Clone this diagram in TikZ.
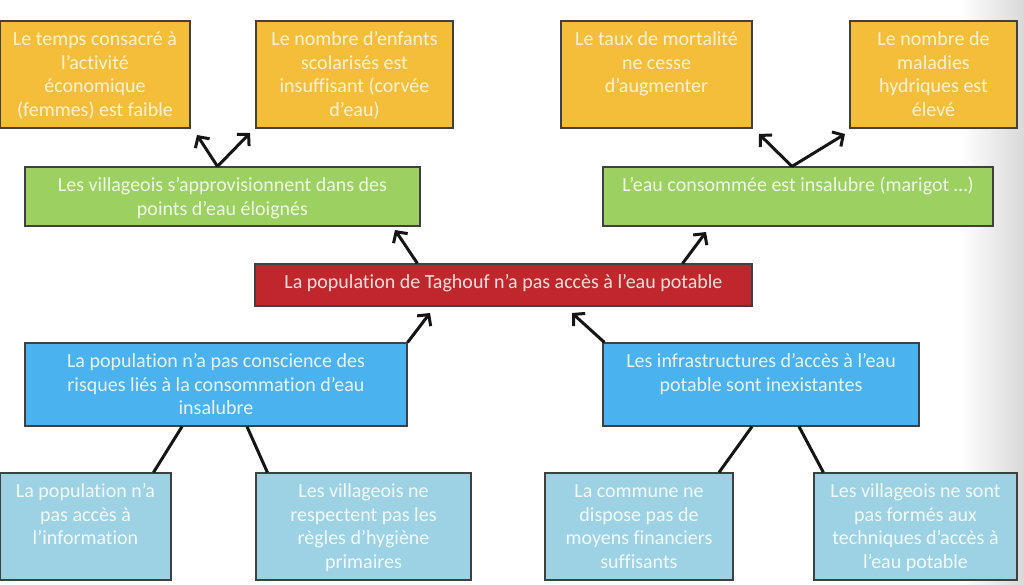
\documentclass[tikz,border=0pt]{standalone}
\usepackage{fontspec}
\setmainfont{Carlito}[Ligatures=NoCommon]
\usetikzlibrary{arrows.meta}

\definecolor{jaune}{HTML}{F5BE3A}
\definecolor{vert}{HTML}{9CD060}
\definecolor{rouge}{HTML}{C0272C}
\definecolor{bleu}{HTML}{4AB2EE}
\definecolor{bleuclair}{HTML}{9DD2E5}
\definecolor{bord}{HTML}{404040}
\definecolor{fleche}{HTML}{151515}

% 箱の中身（上揃え）
\newcommand{\boite}[3]{\parbox[c][#2][t]{#1}{\centering\vspace*{8.5pt}\strut#3}}

\tikzset{
  boitebase/.style={draw=bord, line width=1.2pt, inner sep=0pt,
    font=\fontsize{20}{23.5}\selectfont},
  effet/.style={boitebase, fill=jaune, text=jaune!20!white},
  cause/.style={boitebase, fill=vert, text=vert!15!white},
  probleme/.style={boitebase, fill=rouge, text=rouge!15!white},
  causeun/.style={boitebase, fill=bleu, text=bleu!12!white},
  causedeux/.style={boitebase, fill=bleuclair, text=bleuclair!12!white},
  fleche/.style={draw=fleche, line width=3pt,
    -{Straight Barb[length=8pt,width=17pt]}},
  lien/.style={draw=fleche, line width=3pt},
}

\begin{document}
\begin{tikzpicture}[x=1pt,y=-1pt]
  \useasboundingbox (0,0) rectangle (1024,584);
  % 背景
  \fill[white] (0,0) rectangle (1024,584);
  \shade[left color=white, right color=black!15] (960,0) rectangle (1024,584);
  % 結果
  \node[effet] (Y1) at (95,74.5) {\boite{190pt}{107pt}{Le temps consacré à\\ l’activité\\ économique\\ (femmes) est faible}};
  \node[effet] (Y2) at (354.5,74.5) {\boite{197pt}{107pt}{Le nombre d’enfants\\ scolarisés est\\ insuffisant (corvée\\ d’eau)}};
  \node[effet] (Y3) at (656.5,74.5) {\boite{191pt}{107pt}{Le taux de mortalité\\ ne cesse\\ d’augmenter}};
  \node[effet] (Y4) at (933.5,74.5) {\boite{167pt}{107pt}{Le nombre de\\ maladies\\ hydriques est\\ élevé}};
  \node[cause] (G1) at (222.5,196.5) {\boite{395pt}{59pt}{Les villageois s’approvisionnent dans des\\ points d’eau éloignés}};
  \node[cause] (G2) at (798,196.5) {\boite{390pt}{59pt}{L’eau consommée est insalubre (marigot …)}};
  % 中心の問題
  \node[probleme] (R) at (503.5,285) {\boite{497pt}{42pt}{La population de Taghouf n’a pas accès à l’eau potable}};
  % 原因
  \node[causeun] (B1) at (216,384.5) {\boite{382pt}{83pt}{La population n’a pas conscience des\\ risques liés à la consommation d’eau\\ insalubre}};
  \node[causeun] (B2) at (761,384.5) {\boite{316pt}{83pt}{Les infrastructures d’accès à l’eau\\ potable sont inexistantes}};
  \node[causedeux] (L1) at (85.5,526.5) {\boite{171pt}{107pt}{La population n’a\\ pas accès à\\ l’information}};
  \node[causedeux] (L2) at (363.5,526.5) {\boite{215pt}{107pt}{Les villageois ne\\ respectent pas les\\ règles d’hygiène\\ primaires}};
  \node[causedeux] (L3) at (639,526.5) {\boite{188pt}{107pt}{La commune ne\\ dispose pas de\\ moyens financiers\\ suffisants}};
  \node[causedeux] (L4) at (915.5,526.5) {\boite{203pt}{107pt}{Les villageois ne sont\\ pas formés aux\\ techniques d’accès à\\ l’eau potable}};
  % 矢印の先
  \coordinate (tY1) at (197,135);
  \coordinate (tY2) at (250,133);
  \coordinate (tY3) at (759,134);
  \coordinate (tY4) at (845,134);
  \coordinate (tG1) at (395,230);
  \coordinate (tG2) at (706,232);
  \coordinate (tB1) at (430,313);
  \coordinate (tB2) at (572,313);
  % 矢印の描画
  \draw[fleche] ([xshift=-5pt]G1.north) -- (tY1);
  \draw[fleche] ([xshift=-5pt]G1.north) -- (tY2);
  \draw[fleche] ([xshift=-6pt]G2.north) -- (tY3);
  \draw[fleche] ([xshift=-6pt]G2.north) -- (tY4);
  \draw[fleche] ([xshift=163pt]R.north west) -- (tG1);
  \draw[fleche] ([xshift=-70pt]R.north east) -- (tG2);
  \draw[fleche] (B1.north east) -- (tB1);
  \draw[fleche] ([xshift=2pt]B2.north west) -- (tB2);
  % 線の描画
  \draw[lien] ([xshift=-34pt]B1.south) -- ([xshift=68pt]L1.north);
  \draw[lien] ([xshift=31pt]B1.south) -- ([xshift=12pt]L2.north west);
  \draw[lien] ([xshift=-9pt]B2.south) -- ([xshift=80pt]L3.north);
  \draw[lien] ([xshift=38pt]B2.south) -- ([xshift=10pt]L4.north west);
\end{tikzpicture}
\end{document}
